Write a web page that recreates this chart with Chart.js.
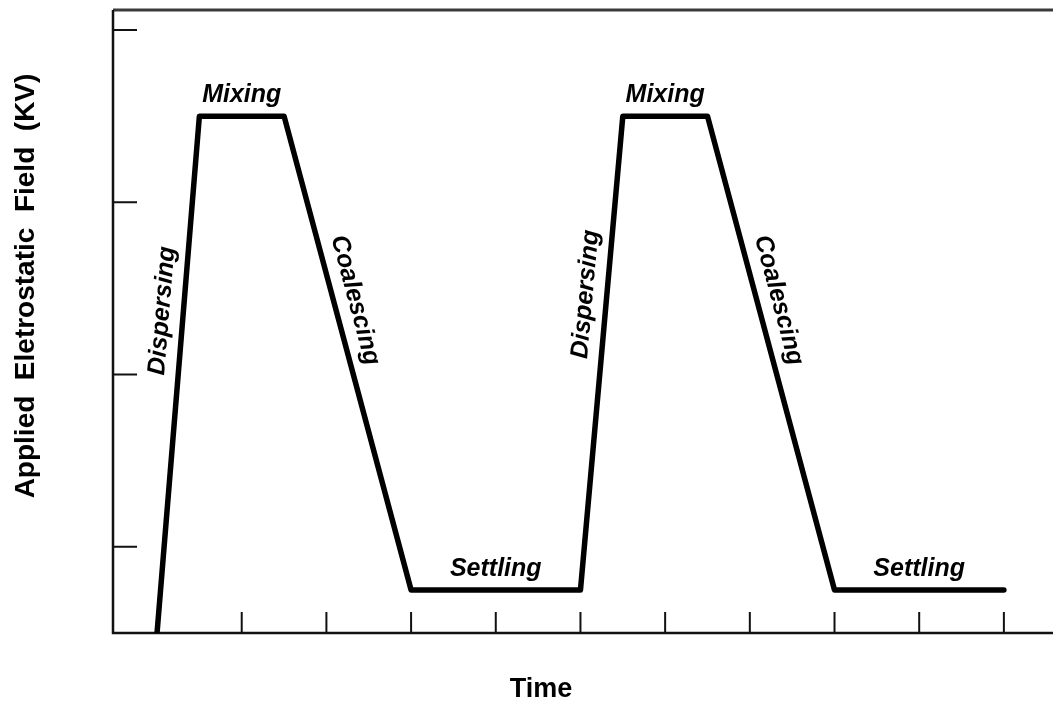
<!DOCTYPE html>
<html>
<head>
<meta charset="utf-8">
<script src="https://cdn.jsdelivr.net/npm/chart.js@4.4.1/dist/chart.umd.min.js"></script>
<style>
  html, body { margin: 0; padding: 0; background: #fff; }
  #wrap { width: 1053px; height: 706px; position: relative; }
</style>
</head>
<body>
<div id="wrap"><canvas id="fieldChart"></canvas></div>
<script>
// time / field values (time in tick units, field in tick units)
const timePoints = [0, 0.5, 1.5, 3, 5, 5.5, 6.5, 8, 10];
const fieldValues = [0.5, 3.5, 3.5, 0.75, 0.75, 3.5, 3.5, 0.75, 0.75];
// one label per segment of the line
const phaseLabels = ["Dispersing", "Mixing", "Coalescing", "Settling", "Dispersing", "Mixing", "Coalescing", "Settling"];
const xTicks = [1, 2, 3, 4, 5, 6, 7, 8, 9, 10];
const yTicks = [1, 2, 3, 4];
const xTitle = "Time";
const yTitle = "Applied  Eletrostatic  Field  (KV)";

const points = timePoints.map((t, i) => ({ x: t, y: fieldValues[i] }));

// axes, inner ticks, titles and phase labels
const framePlugin = {
    id: "frame",
    beforeDatasetsDraw(chart) {
        const ctx = chart.ctx;
        const a = chart.chartArea;
        const xs = chart.scales.x, ys = chart.scales.y;
        ctx.save();
        // top border (greyish)
        ctx.strokeStyle = "#3a3a3a";
        ctx.lineWidth = 3;
        ctx.beginPath();
        ctx.moveTo(a.left, a.top);
        ctx.lineTo(a.right, a.top);
        ctx.stroke();
        // left + bottom axis
        ctx.strokeStyle = "#111";
        ctx.lineWidth = 2.5;
        ctx.beginPath();
        ctx.moveTo(a.left, a.top);
        ctx.lineTo(a.left, a.bottom);
        ctx.lineTo(a.right, a.bottom);
        ctx.stroke();
        // ticks pointing inwards
        ctx.lineWidth = 2;
        ctx.beginPath();
        yTicks.forEach(v => {
            const py = ys.getPixelForValue(v);
            ctx.moveTo(a.left, py);
            ctx.lineTo(a.left + 24, py);
        });
        xTicks.forEach(v => {
            const px = xs.getPixelForValue(v);
            ctx.moveTo(px, a.bottom);
            ctx.lineTo(px, a.bottom - 21);
        });
        ctx.stroke();
        // axis titles
        ctx.fillStyle = "#000";
        ctx.font = "bold 27px 'Liberation Sans', Arial, sans-serif";
        ctx.textAlign = "center";
        ctx.textBaseline = "middle";
        ctx.fillText(xTitle, 541, 690);
        ctx.font = "bold 28px 'Liberation Sans', Arial, sans-serif";
        ctx.translate(26, 286);
        ctx.rotate(-Math.PI / 2);
        ctx.fillText(yTitle, 0, 0);
        ctx.restore();
    },
    afterDatasetsDraw(chart) {
        const ctx = chart.ctx;
        const xs = chart.scales.x, ys = chart.scales.y;
        ctx.save();
        ctx.fillStyle = "#000";
        ctx.font = "italic bold 25px 'Liberation Sans', Arial, sans-serif";
        ctx.textAlign = "center";
        ctx.textBaseline = "middle";
        phaseLabels.forEach((lab, i) => {
            const x0 = xs.getPixelForValue(points[i].x), y0 = ys.getPixelForValue(points[i].y);
            const x1 = xs.getPixelForValue(points[i + 1].x), y1 = ys.getPixelForValue(points[i + 1].y);
            let t = 0.5;
            if (Math.abs(y1 - y0) > 1) t = (y1 < y0) ? 0.62 : 0.4; // sloped: sit a bit above middle
            const ang = Math.atan2(y1 - y0, x1 - x0);
            const off = 21;
            // shift along the text's "up" direction
            const cx = x0 + (x1 - x0) * t + Math.sin(ang) * off;
            const cy = y0 + (y1 - y0) * t - Math.cos(ang) * off;
            ctx.save();
            ctx.translate(cx, cy);
            ctx.rotate(ang);
            ctx.fillText(lab, 0, 0);
            ctx.restore();
        });
        ctx.restore();
    }
};

const config = {
    type: "line",
    data: {
        datasets: [{
            data: points,
            borderColor: "#000",
            borderWidth: 5.5,
            pointRadius: 0,
            tension: 0,
            fill: false,
            borderJoinStyle: "round",
            borderCapStyle: "round"
        }]
    },
    options: {
        responsive: true,
        maintainAspectRatio: false,
        animation: false,
        layout: { padding: { left: 113, top: 10, right: 0, bottom: 73 } },
        plugins: { legend: { display: false }, tooltip: { enabled: false } },
        scales: {
            x: { type: "linear", min: -0.52, max: 10.58, display: false },
            y: { type: "linear", min: 0.5, max: 4.116, display: false }
        }
    },
    plugins: [framePlugin]
};

new Chart(document.getElementById("fieldChart").getContext("2d"), config);
</script>
</body>
</html>
